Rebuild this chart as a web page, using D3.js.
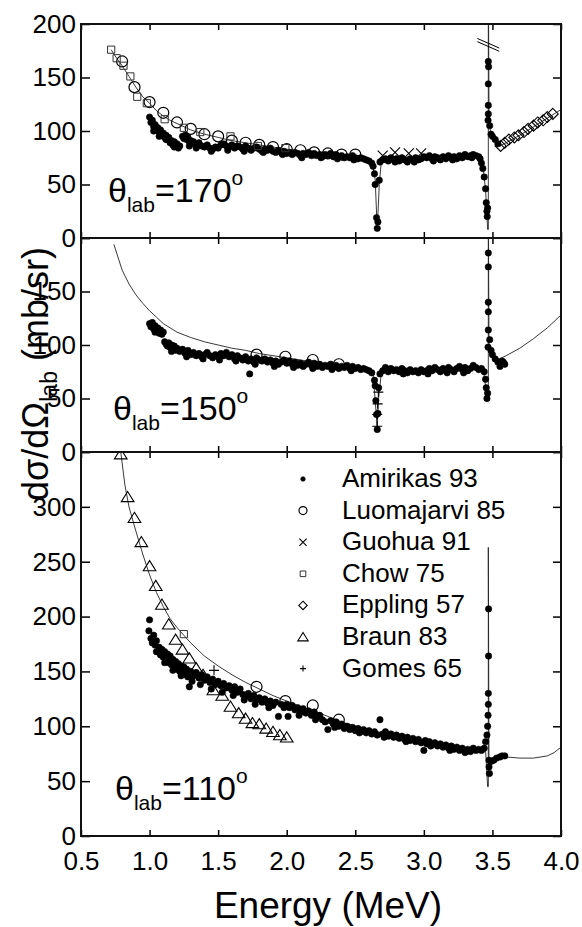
<!DOCTYPE html>
<html>
<head>
<meta charset="utf-8">
<script src="https://cdn.jsdelivr.net/npm/d3@7"></script>
<style>
  body { margin: 0; background: #fff; }
  svg { display: block; }
  text { font-family: Arial, 'Liberation Sans', sans-serif; fill: #000; }
</style>
</head>
<body>
<div id="chart"></div>
<script>
// Elastic scattering cross sections at three lab angles

// ---- data: [energy MeV, dsigma/dOmega mb/sr] ----
const amirikas170 = [
  [1.00,113],[1.01,108],[1.02,110],[1.03,104],[1.04,106],[1.05,101],[1.06,103],[1.07,99],[1.08,101],[1.09,97],
  [1.10,98],[1.11,94],[1.12,96],[1.13,92],[1.14,94],[1.15,89],[1.16,91],[1.17,87],[1.18,90],[1.19,86],
  [1.20,88],[1.21,84],[1.22,86],[1.24,95],[1.25,93],[1.26,96],[1.27,92],[1.28,94],[1.29,90],[1.30,91],
  [1.31,89],[1.32,90],[1.33,88],[1.35,87],[1.36,89],[1.38,86],[1.40,85],[1.42,87],[1.44,84],[1.46,83],
  [1.48,85],[1.50,84],[1.52,87],[1.54,88],[1.56,86],[1.58,85],[1.60,87],[1.62,84],[1.64,86],[1.66,85],
  [1.68,83],[1.70,86],[1.72,84],[1.74,82],[1.76,84],[1.78,85],[1.80,83],[1.82,81],[1.84,83],[1.86,82],
  [1.88,84],[1.90,81],[1.92,80],[1.94,82],[1.96,80],[1.98,81],[2.00,79],[2.02,80],[2.04,78],[2.06,80],
  [2.08,79],[2.10,77],[2.12,79],[2.14,78],[2.16,80],[2.18,77],[2.20,79],[2.22,77],[2.24,78],[2.26,76],
  [2.28,78],[2.30,77],[2.32,79],[2.34,76],[2.36,78],[2.38,76],[2.40,77],[2.42,75],[2.44,76],[2.46,75],
  [2.48,77],[2.50,75],[2.52,74],[2.54,75],[2.56,74],[2.58,73],[2.60,72],[2.62,70],[2.63,67],[2.64,60],
  [2.645,50],[2.655,19],[2.66,9],[2.665,15],[2.675,54],[2.68,71],[2.70,73],[2.72,74],[2.74,72],[2.76,75],
  [2.78,73],[2.80,74],[2.82,72],[2.84,75],[2.86,73],[2.88,71],[2.90,74],[2.92,73],[2.94,75],[2.96,73],
  [2.98,74],[3.00,76],[3.02,75],[3.04,77],[3.06,74],[3.08,76],[3.10,75],[3.12,73],[3.14,76],[3.16,74],
  [3.18,77],[3.20,75],[3.22,76],[3.24,74],[3.26,77],[3.28,75],[3.30,78],[3.32,76],[3.34,77],[3.36,78],
  [3.38,77],[3.40,76],[3.41,74],[3.42,70],[3.43,65],[3.44,57],[3.45,46],[3.455,33],[3.46,25],[3.462,20],
  [3.465,28],[3.468,110],[3.47,116],[3.47,124],[3.47,144],[3.47,165],[3.472,160],[3.48,105],[3.49,97],
  [3.50,95],[3.52,92],[3.54,88],
  [1.03,100],[1.07,95],[1.12,92],[1.18,85],[1.29,86],[1.34,84],[1.45,81],[1.57,82],[1.69,81],[1.83,80],
  [1.97,78],[2.11,75],[2.25,75],[2.37,74],[2.49,73],[2.79,71],[2.93,71],[3.07,72],[3.21,73],[3.35,75]
];
const luomajarvi170 = [
  [0.80,165],[0.89,141],[1.00,127],[1.10,117],[1.20,108],[1.30,102],[1.40,97],[1.50,95],[1.60,91],
  [1.70,89],[1.80,87],[1.90,85],[2.00,83],[2.10,82],[2.20,80],[2.30,79],[2.40,78],[2.50,78]
];
const chow170 = [
  [0.72,176],[0.76,168],[0.81,161],[0.86,151],[0.91,132],[0.98,126],[1.11,111],[1.25,103],[1.37,99],
  [1.59,95],[1.79,86],[1.99,84]
];
const guohua170 = [[2.70,77],[2.79,80],[2.89,79],[2.98,79]];
const eppling170 = [
  [3.56,86],[3.59,89],[3.62,92],[3.66,94],[3.69,96],[3.73,99],[3.76,102],[3.80,105],[3.83,108],
  [3.87,110],[3.90,113],[3.94,116]
];
const theory170 = [
  [0.72,176],[0.76,168],[0.80,161],[0.85,151],[0.90,141],[0.95,132],[1.00,126],[1.05,119],[1.10,114],
  [1.15,110],[1.20,107],[1.30,101],[1.40,97],[1.50,94],[1.60,91],[1.70,89],[1.80,87],[1.90,85],[2.00,83],
  [2.10,81],[2.20,80],[2.30,79],[2.40,78],[2.50,77],[2.58,75],[2.62,72],[2.645,55],[2.66,8],[2.675,50],
  [2.69,72],[2.75,74],[2.90,75],[3.10,76],[3.30,77],[3.40,76],[3.43,68],[3.45,45],[3.465,8],[3.47,8],
  [3.47,260],[3.475,110],[3.49,96],[3.52,91],[3.555,86],[3.60,89],[3.70,96],[3.80,104],[3.90,112],[4.00,120]
];
const breakMarks = [[3.39,186.5,3.55,177.5],[3.39,183.5,3.55,174.5]];

const amirikas150 = [
  [1.00,120],[1.01,117],[1.02,121],[1.03,115],[1.04,118],[1.05,113],[1.06,116],[1.07,111],[1.08,114],[1.09,110],
  [1.10,112],[1.11,103],[1.12,101],[1.13,99],[1.14,102],[1.15,98],[1.16,100],[1.17,96],[1.18,99],[1.19,95],
  [1.20,97],[1.22,94],[1.24,96],[1.26,92],[1.28,95],[1.30,91],[1.32,93],[1.34,90],[1.36,92],[1.38,89],
  [1.40,91],[1.42,93],[1.44,90],[1.46,88],[1.48,91],[1.50,89],[1.52,92],[1.54,90],[1.56,93],[1.58,89],
  [1.60,91],[1.62,87],[1.64,90],[1.66,88],[1.68,86],[1.70,89],[1.72,85],[1.73,73],[1.74,87],[1.76,84],
  [1.78,88],[1.80,86],[1.82,85],[1.84,87],[1.86,84],[1.88,86],[1.90,83],[1.92,85],[1.94,82],[1.96,84],
  [1.98,86],[2.00,83],[2.02,85],[2.04,82],[2.06,84],[2.08,81],[2.10,83],[2.12,80],[2.14,82],[2.16,84],
  [2.18,81],[2.20,83],[2.22,80],[2.24,82],[2.26,79],[2.28,81],[2.30,80],[2.32,82],[2.34,79],[2.36,81],
  [2.38,78],[2.40,80],[2.42,79],[2.44,81],[2.46,78],[2.48,80],[2.50,78],[2.52,79],[2.54,77],[2.56,78],
  [2.58,77],[2.60,76],[2.62,74],[2.64,67],[2.645,62],[2.65,48],[2.655,35],[2.66,21],[2.665,36],[2.67,60],
  [2.68,73],[2.70,76],[2.72,79],[2.74,75],[2.76,78],[2.78,76],[2.80,77],[2.82,75],[2.84,78],[2.86,76],
  [2.88,74],[2.90,77],[2.92,75],[2.94,76],[2.96,74],[2.98,77],[3.00,75],[3.02,76],[3.04,78],[3.06,76],
  [3.08,79],[3.10,77],[3.12,75],[3.14,78],[3.16,76],[3.18,79],[3.20,77],[3.22,75],[3.24,78],[3.26,80],
  [3.28,77],[3.30,79],[3.32,76],[3.34,78],[3.36,81],[3.38,79],[3.40,77],[3.42,78],[3.44,75],[3.45,68],
  [3.455,60],[3.46,50],[3.465,55],[3.468,98],[3.47,114],[3.47,131],[3.47,140],[3.47,173],[3.47,186],
  [3.48,105],[3.49,95],[3.50,91],[3.52,87],[3.54,84],[3.555,80],[3.57,85],[3.58,84],[3.59,82],
  [1.04,112],[1.16,94],[1.27,89],[1.39,87],[1.51,86],[1.63,85],[1.77,82],[1.91,80],[2.05,79],[2.19,78],
  [2.33,77],[2.47,76],[2.85,73],[3.03,73],[3.17,74],[3.29,74]
];
const luomajarvi150 = [[1.78,91],[1.99,89],[2.19,86],[2.38,82]];
const gomes150 = [[2.668,56],[2.663,45],[2.66,35],[2.66,24]];
const theory150 = [
  [0.74,194],[0.80,170],[0.85,157],[0.90,147],[0.95,139],[1.00,132],[1.05,126],[1.10,120],[1.20,112],
  [1.30,107],[1.40,103],[1.50,100],[1.60,97],[1.70,95],[1.80,92],[1.90,90],[2.00,88],[2.10,86],[2.20,84],
  [2.30,82],[2.40,80],[2.50,79],[2.60,77],[2.63,73],[2.65,40],[2.66,22],[2.67,50],[2.69,74],[2.80,76],
  [3.00,77],[3.20,77],[3.40,78],[3.44,72],[3.46,50],[3.47,50],[3.47,230],[3.475,100],[3.50,90],[3.55,87],
  [3.60,90],[3.70,97],[3.80,106],[3.90,116],[4.00,128]
];

const amirikas110 = [
  [0.995,187],[1.00,197],[1.01,180],[1.02,176],[1.03,183],[1.04,174],[1.05,178],[1.06,168],[1.07,172],[1.08,165],
  [1.09,170],[1.10,163],[1.11,168],[1.12,160],[1.13,166],[1.14,158],[1.15,164],[1.16,156],[1.17,161],[1.18,154],
  [1.19,159],[1.20,152],[1.21,157],[1.22,150],[1.23,155],[1.24,149],[1.25,154],[1.26,147],[1.27,152],[1.28,145],
  [1.29,136],[1.30,150],[1.32,146],[1.34,149],[1.36,144],[1.38,147],[1.40,142],[1.42,145],[1.44,140],[1.46,143],
  [1.48,138],[1.50,141],[1.52,137],[1.54,139],[1.56,135],[1.58,137],[1.60,133],[1.62,136],[1.64,131],[1.66,134],
  [1.68,129],[1.70,127],[1.72,130],[1.74,125],[1.76,128],[1.78,124],[1.80,126],[1.82,122],[1.84,125],[1.86,121],
  [1.88,123],[1.90,119],[1.92,122],[1.94,109],[1.96,120],[1.98,117],[2.00,120],[2.01,109],[2.02,117],[2.04,119],
  [2.06,115],[2.08,117],[2.10,113],[2.12,116],[2.14,112],[2.16,114],[2.18,110],[2.20,113],[2.22,108],[2.24,110],
  [2.26,106],[2.28,104],[2.30,97],[2.32,105],[2.34,102],[2.36,104],[2.38,100],[2.40,102],[2.42,98],[2.44,100],
  [2.46,97],[2.48,99],[2.50,96],[2.52,98],[2.54,95],[2.56,97],[2.58,94],[2.60,96],[2.62,93],[2.64,95],
  [2.66,92],[2.68,106],[2.70,93],[2.72,95],[2.74,91],[2.76,93],[2.78,90],[2.80,92],[2.82,89],[2.84,91],
  [2.86,88],[2.88,90],[2.90,87],[2.92,89],[2.94,86],[2.96,88],[2.98,85],[3.00,78],[3.01,87],[3.02,84],
  [3.04,86],[3.06,83],[3.08,85],[3.10,82],[3.12,84],[3.14,81],[3.16,83],[3.18,80],[3.20,82],[3.22,79],
  [3.24,81],[3.26,78],[3.28,80],[3.30,76],[3.32,79],[3.34,77],[3.36,80],[3.38,78],[3.40,79],[3.42,78],
  [3.44,80],[3.45,86],[3.46,92],[3.465,100],[3.468,110],[3.47,120],[3.47,130],[3.472,164],[3.472,207],
  [3.475,69],[3.475,63],[3.478,57],[3.49,68],[3.51,69],[3.53,71],[3.555,72],[3.57,73],[3.59,73],
  [1.05,168],[1.11,158],[1.17,151],[1.23,146],[1.31,141],[1.37,138],[1.45,134],[1.53,131],[1.61,128],
  [1.69,124],[1.77,120],[1.87,117],[2.09,110],[2.21,106],[2.35,99],[2.53,94],[2.71,90],[2.87,86],
  [3.05,82],[3.19,78],[3.31,77]
];
const luomajarvi110 = [[1.78,136],[1.99,123],[2.19,119],[2.38,106]];
const chow110 = [[1.25,184]];
const gomes110 = [[1.47,151]];
const braun110 = [
  [0.79,348],[0.84,309],[0.89,290],[0.94,268],[1.00,246],[1.045,228],[1.09,211],[1.14,193],[1.19,179],
  [1.24,170],[1.29,162],[1.34,153],[1.39,147],[1.465,133],[1.53,128],[1.59,118],[1.65,112],[1.70,107],
  [1.75,103],[1.80,102],[1.85,98],[1.90,95],[1.95,92],[2.00,90]
];
const theory110 = [
  [0.79,350],[0.82,320],[0.85,300],[0.90,278],[0.95,257],[1.00,238],[1.05,222],[1.10,209],[1.15,198],
  [1.20,190],[1.25,183],[1.30,176],[1.40,164],[1.50,155],[1.60,147],[1.70,140],[1.80,134],[1.90,128],
  [2.00,123],[2.10,118],[2.20,114],[2.30,109],[2.40,104],[2.50,100],[2.60,97],[2.70,94],[2.80,91],
  [2.90,89],[3.00,86],[3.10,84],[3.20,82],[3.30,80],[3.40,79],[3.45,78],[3.465,45],[3.47,45],[3.47,263],
  [3.475,60],[3.50,68],[3.55,71],[3.60,72],[3.70,71],[3.80,71],[3.90,73],[3.95,76],[4.00,81]
];

const legendNames = ['Amirikas 93','Luomajarvi 85','Guohua 91','Chow 75','Eppling 57','Braun 83','Gomes 65'];
const legendKinds = ['dot','circle','times','square','diamond','triangle','plus'];
const xTicks = [0.5,1.0,1.5,2.0,2.5,3.0,3.5,4.0];

// ---- layout ----
const W = 582, H = 927;
const L = 81, R = 561;
const svg = d3.select('#chart').append('svg').attr('width', W).attr('height', H);
const x = d3.scaleLinear().domain([0.5, 4.0]).range([L, R]);

const panels = [
  { top: 24, bottom: 238, max: 200, ticks: [0,50,100,150,200], angle: '170', lx: 108, ly: 202,
    theory: theory170, series: [['dot',amirikas170],['circle',luomajarvi170],['square',chow170],['times',guohua170],['diamond',eppling170]] },
  { top: 238, bottom: 452, max: 200, ticks: [0,50,100,150,200], hide: 200, angle: '150', lx: 113, ly: 420,
    theory: theory150, series: [['dot',amirikas150],['circle',luomajarvi150],['plus',gomes150]] },
  { top: 452, bottom: 836, max: 350, ticks: [0,50,100,150,200,250,300,350], hide: 350, angle: '110', lx: 115, ly: 800,
    theory: theory110, series: [['dot',amirikas110],['triangle',braun110],['circle',luomajarvi110],['square',chow110],['plus',gomes110]] }
];

function symPath(kind, s) {
  switch (kind) {
    case 'square': return `M${-s},${-s}h${2*s}v${2*s}h${-2*s}Z`;
    case 'diamond': return `M0,${-s}L${s},0L0,${s}L${-s},0Z`;
    case 'triangle': return `M0,${-s}L${s*1.15},${s*0.85}L${-s*1.15},${s*0.85}Z`;
    case 'times': return `M${-s},${-s}L${s},${s}M${-s},${s}L${s},${-s}`;
    case 'plus': return `M${-s},0H${s}M0,${-s}V${s}`;
  }
}
const plotSize = { dot: 3.2, circle: 5.5, square: 3.6, diamond: 5.5, triangle: 5.5, times: 5, plus: 5 };
const legSize = { dot: 2.3, circle: 4, square: 2.8, diamond: 4.2, triangle: 4.5, times: 3.6, plus: 3 };

function drawSymbols(g, kind, data, sizes, px, py) {
  const s = sizes[kind];
  if (kind === 'dot' || kind === 'circle') {
    g.selectAll(null).data(data).enter().append('circle')
      .attr('cx', px).attr('cy', py).attr('r', s)
      .attr('fill', kind === 'dot' ? '#000' : 'none')
      .attr('stroke', '#000').attr('stroke-width', kind === 'dot' ? 0.6 : 1.2);
  } else {
    g.selectAll(null).data(data).enter().append('path')
      .attr('transform', (d, i) => `translate(${px(d, i)},${py(d, i)})`)
      .attr('d', symPath(kind, s))
      .attr('fill', 'none')
      .attr('stroke', kind === 'square' ? '#333' : '#000')
      .attr('stroke-width', kind === 'square' ? 1 : 1.1);
  }
}

panels.forEach((p, i) => {
  const y = d3.scaleLinear().domain([0, p.max]).range([p.bottom, p.top]);
  const g = svg.append('g');

  const clipId = 'clip' + i;
  svg.append('clipPath').attr('id', clipId).append('rect')
    .attr('x', L).attr('y', p.top).attr('width', R - L).attr('height', p.bottom - p.top);
  const plot = g.append('g').attr('clip-path', `url(#${clipId})`);

  // theory curve
  plot.append('path').datum(p.theory)
    .attr('d', d3.line().x(d => x(d[0])).y(d => y(d[1])))
    .attr('fill', 'none').attr('stroke', '#222').attr('stroke-width', 0.9);

  p.series.forEach(([kind, data]) => {
    drawSymbols(plot, kind, data, plotSize, d => x(d[0]), d => y(d[1]));
  });

  if (i === 0) {
    plot.selectAll(null).data(breakMarks).enter().append('line')
      .attr('x1', d => x(d[0])).attr('y1', d => y(d[1]))
      .attr('x2', d => x(d[2])).attr('y2', d => y(d[3]))
      .attr('stroke', '#000').attr('stroke-width', 1);
  }

  // axes
  const leftAx = d3.axisLeft(y).tickValues(p.ticks).tickSize(-9).tickSizeOuter(0).tickPadding(5)
    .tickFormat(d => d === p.hide ? '' : d);
  const gl = g.append('g').attr('transform', `translate(${L},0)`).call(leftAx);
  gl.selectAll('text').attr('font-size', 26).attr('font-family', 'Arial, Liberation Sans, sans-serif').attr('fill', '#000');

  const rightAx = d3.axisRight(y).tickValues(p.ticks).tickSize(-8).tickSizeOuter(0).tickFormat('');
  const gr = g.append('g').attr('transform', `translate(${R},0)`).call(rightAx);

  const topAx = d3.axisTop(x).tickValues(xTicks).tickSize(-6).tickSizeOuter(0).tickFormat('');
  const gt = g.append('g').attr('transform', `translate(0,${p.top})`).call(topAx);

  const botAx = d3.axisBottom(x).tickValues(xTicks).tickSize(-6).tickSizeOuter(0).tickPadding(16)
    .tickFormat(i === 2 ? d3.format('.1f') : '');
  const gb = g.append('g').attr('transform', `translate(0,${p.bottom})`).call(botAx);
  gb.selectAll('text').attr('font-size', 26).attr('font-family', 'Arial, Liberation Sans, sans-serif').attr('fill', '#000');

  [gl, gr, gt, gb].forEach(a => {
    a.select('.domain').remove();
    a.selectAll('line').attr('stroke', '#000').attr('stroke-width', 1.5);
  });

  // frame
  g.append('rect').attr('x', L).attr('y', p.top).attr('width', R - L).attr('height', p.bottom - p.top)
    .attr('fill', 'none').attr('stroke', '#111').attr('stroke-width', 2);

  // angle label
  const t = g.append('text').attr('x', p.lx).attr('y', p.ly).attr('font-size', 34);
  t.append('tspan').text('θ');
  t.append('tspan').attr('font-size', 21).attr('dy', 10).text('lab');
  t.append('tspan').attr('dy', -10).text('=' + p.angle);
  t.append('tspan').attr('font-size', 21).attr('dy', -17).text('o');
});

// legend in the bottom panel
const leg = svg.append('g');
legendNames.forEach((name, i) => {
  const by = 487 + i * 31.6;
  drawSymbols(leg, legendKinds[i], [0], legSize, () => 303, () => by - 8);
  leg.append('text').attr('x', 342).attr('y', by).attr('font-size', 26).text(name);
});

// axis titles
svg.append('text').attr('x', 328).attr('y', 918).attr('text-anchor', 'middle')
  .attr('font-size', 37).text('Energy (MeV)');

const yl = svg.append('text').attr('transform', 'translate(48,374) rotate(-90)')
  .attr('text-anchor', 'middle').attr('font-size', 36);
yl.append('tspan').text('dσ/dΩ');
yl.append('tspan').attr('font-size', 23).attr('dy', 9).text('lab');
yl.append('tspan').attr('dy', -9).text(' (mb/sr)');
</script>
</body>
</html>
